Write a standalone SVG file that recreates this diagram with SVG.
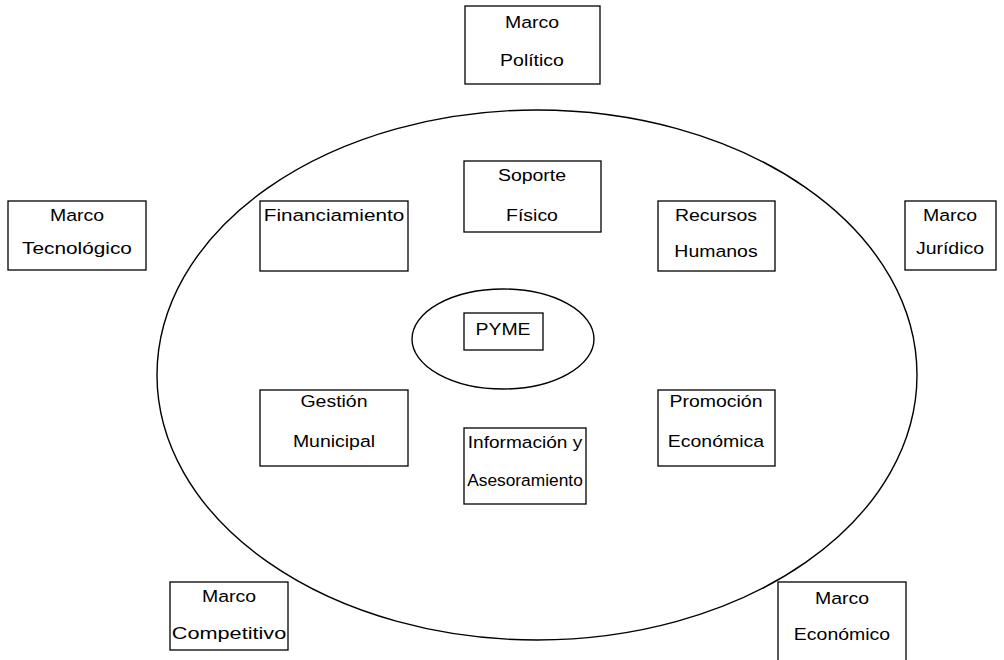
<svg xmlns="http://www.w3.org/2000/svg" width="1004" height="660" viewBox="0 0 1004 660">
<style>
.b{fill:#fff;stroke:#000;stroke-width:1.3}
ellipse{fill:none;stroke:#000;stroke-width:1.4}
text{font-family:"Liberation Sans",Arial,sans-serif;font-size:16.5px;fill:#000;text-anchor:middle;transform-box:fill-box;transform-origin:center;transform:scaleX(1.18)}
</style>
<rect width="1004" height="660" fill="#fff"/>
<g id="connectors">
<ellipse id="outer" cx="537" cy="375" rx="380" ry="265"/>
<ellipse id="inner" cx="503" cy="339" rx="91" ry="50"/>
</g>
<g id="marco-politico"><rect class="b" x="465" y="6" width="135" height="78"/><text x="532" y="28">Marco</text><text x="532" y="66">Político</text></g>
<g id="marco-tecnologico"><rect class="b" x="8" y="201" width="138" height="69"/><text x="77" y="221">Marco</text><text x="77" y="254" textLength="93" lengthAdjust="spacingAndGlyphs">Tecnológico</text></g>
<g id="marco-juridico"><rect class="b" x="905" y="201" width="91" height="69"/><text x="950" y="221">Marco</text><text x="950" y="254">Jurídico</text></g>
<g id="marco-competitivo"><rect class="b" x="170" y="582" width="118" height="68"/><text x="229" y="602">Marco</text><text x="229" y="639" textLength="97" lengthAdjust="spacingAndGlyphs">Competitivo</text></g>
<g id="marco-economico"><rect class="b" x="778" y="582" width="128" height="80"/><text x="842" y="604">Marco</text><text x="842" y="640">Económico</text></g>
<g id="soporte-fisico"><rect class="b" x="464" y="161" width="137" height="71"/><text x="532" y="181">Soporte</text><text x="532" y="221">Físico</text></g>
<g id="financiamiento"><rect class="b" x="260" y="201" width="148" height="70"/><text x="334" y="221" textLength="119" lengthAdjust="spacingAndGlyphs">Financiamiento</text></g>
<g id="recursos-humanos"><rect class="b" x="658" y="201" width="117" height="70"/><text x="716" y="221">Recursos</text><text x="716" y="257">Humanos</text></g>
<g id="pyme"><rect class="b" x="464" y="313" width="79" height="37"/><text x="503" y="335">PYME</text></g>
<g id="gestion-municipal"><rect class="b" x="260" y="390" width="148" height="76"/><text x="334" y="407">Gestión</text><text x="334" y="447">Municipal</text></g>
<g id="informacion"><rect class="b" x="464" y="428" width="122" height="76"/><text x="525" y="448" textLength="97" lengthAdjust="spacingAndGlyphs">Información y</text><text x="525" y="486" textLength="98" lengthAdjust="spacingAndGlyphs">Asesoramiento</text></g>
<g id="promocion-economica"><rect class="b" x="658" y="390" width="117" height="76"/><text x="716" y="407">Promoción</text><text x="716" y="447">Económica</text></g>
</svg>
